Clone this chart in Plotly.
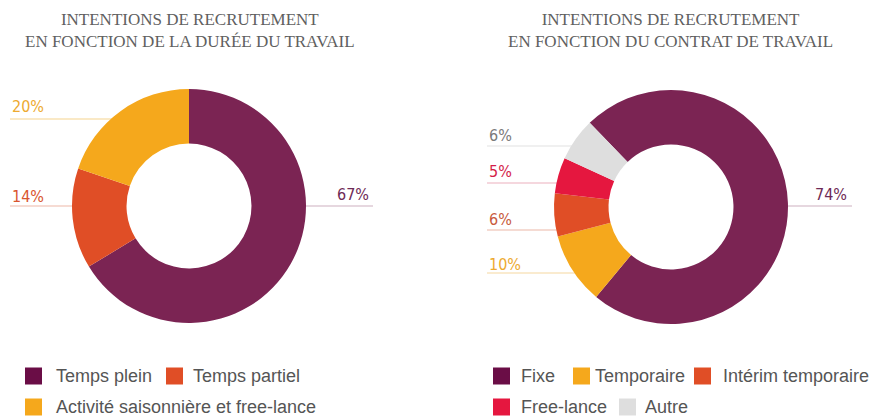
import plotly.graph_objects as go

W, H = 871, 418

# ---- data ----
duree_labels = ["Temps plein", "Temps partiel", "Activité saisonnière et free-lance"]
duree_values = [67, 14, 20]
duree_colors = ["#7B2453", "#E04E26", "#F5A81C"]

contrat_labels = ["Fixe", "Temporaire", "Intérim temporaire", "Free-lance", "Autre"]
contrat_values = [74, 10, 6, 5, 6]
contrat_colors = ["#7B2453", "#F5A81C", "#E04E26", "#E5173F", "#DEDEDE"]

title_left = "INTENTIONS DE RECRUTEMENT<br>EN FONCTION DE LA DURÉE DU TRAVAIL"
title_right = "INTENTIONS DE RECRUTEMENT<br>EN FONCTION DU CONTRAT DE TRAVAIL"

# ---- styling / layout helpers ----
def px(x):
    return x / W

def py(y):
    return 1 - y / H

label_text_colors_l = ["#6E2A56", "#D9552F", "#EDAA30"]
label_line_colors_l = ["#CDB0C0", "#EDB8A8", "#F5D48E"]
label_text_colors_r = ["#6E2A56", "#EDAA30", "#C85A3C", "#D41E4A", "#7A7A7A"]
label_line_colors_r = ["#CDB0C0", "#F5D8A0", "#EBB8A8", "#EBAFBE", "#E2E2E2"]

# label geometry per slice: (text x, text anchor, text y, line y, line x0, line x1)
geom_l = [
    (371, "right", 195, 206, 290, 373),
    (10, "left", 196, 206, 10, 90),
    (10, "left", 107, 119, 10, 125),
]
geom_r = [
    (849, "right", 195, 206, 770, 852),
    (487, "left", 264, 273, 487, 590),
    (487, "left", 219, 230, 487, 570),
    (487, "left", 172, 183, 487, 570),
    (487, "left", 136, 146, 487, 590),
]

fig = go.Figure()

fig.add_trace(go.Pie(
    labels=duree_labels, values=duree_values, hole=0.534, sort=False,
    direction="clockwise", rotation=0,
    marker=dict(colors=duree_colors, line=dict(width=0)),
    textinfo="none", hoverinfo="label+percent", showlegend=False,
    domain=dict(x=[px(72), px(306)], y=[py(323), py(89)]),
))
fig.add_trace(go.Pie(
    labels=contrat_labels, values=contrat_values, hole=0.534, sort=False,
    direction="clockwise", rotation=316,
    marker=dict(colors=contrat_colors, line=dict(width=0)),
    textinfo="none", hoverinfo="label+percent", showlegend=False,
    domain=dict(x=[px(554), px(788)], y=[py(324), py(90)]),
))

shapes = []
annotations = []

pct_font = "DejaVu Sans Condensed, Liberation Sans Narrow, Arial Narrow, sans-serif"

def add_labels(values, geom, tcolors, lcolors):
    for v, g, tc, lc in zip(values, geom, tcolors, lcolors):
        tx, anchor, ty, ly, lx0, lx1 = g
        shapes.append(dict(type="line", xref="paper", yref="paper", layer="below",
                           x0=px(lx0), x1=px(lx1), y0=py(ly), y1=py(ly),
                           line=dict(color=lc, width=1.2)))
        annotations.append(dict(text=f"{v}%", xref="paper", yref="paper",
                                x=px(tx), y=py(ty), xanchor=anchor, yanchor="middle",
                                showarrow=False,
                                font=dict(family=pct_font, size=16, color=tc)))

add_labels(duree_values, geom_l, label_text_colors_l, label_line_colors_l)
add_labels(contrat_values, geom_r, label_text_colors_r, label_line_colors_r)

title_font = dict(family="Liberation Serif, serif", size=17, color="#606060")
annotations.append(dict(text=title_left, xref="paper", yref="paper", x=px(190), y=py(30),
                        xanchor="center", yanchor="middle", showarrow=False, font=title_font))
annotations.append(dict(text=title_right, xref="paper", yref="paper", x=px(670), y=py(30),
                        xanchor="center", yanchor="middle", showarrow=False, font=title_font))

# legends (manual), positions per entry: (square x, row y, text x)
legend_font = dict(family="Liberation Sans, Arial, sans-serif", size=18, color="#555555")
legend_l_pos = [(25, 376, 54), (166, 376, 191), (25, 407, 54)]
legend_r_pos = [(493, 376, 519), (573, 376, 593), (694, 376, 721), (493, 407, 519), (619, 407, 643)]
legend_l_colors = ["#6A0D46", "#E04E26", "#F5A81C"]
legend_r_colors = ["#6A0D46", "#F5A81C", "#E04E26", "#E5173F", "#DEDEDE"]

def add_legend(labels, pos, colors):
    for lab, (sx, ry, tx), c in zip(labels, pos, colors):
        shapes.append(dict(type="rect", xref="paper", yref="paper",
                           x0=px(sx), x1=px(sx + 17), y0=py(ry + 8.5), y1=py(ry - 8.5),
                           fillcolor=c, line=dict(width=0)))
        annotations.append(dict(text=lab, xref="paper", yref="paper", x=px(tx), y=py(ry),
                                xanchor="left", yanchor="middle", showarrow=False,
                                font=legend_font))

add_legend(duree_labels, legend_l_pos, legend_l_colors)
add_legend(contrat_labels, legend_r_pos, legend_r_colors)

fig.update_layout(
    width=W, height=H,
    margin=dict(l=0, r=0, t=0, b=0),
    paper_bgcolor="white", plot_bgcolor="white",
    shapes=shapes, annotations=annotations,
    showlegend=False,
)

fig.write_html(
    "out.html",
    config={"displayModeBar": False},
    post_script="document.body.style.margin='0';document.body.style.overflow='hidden';",
)
